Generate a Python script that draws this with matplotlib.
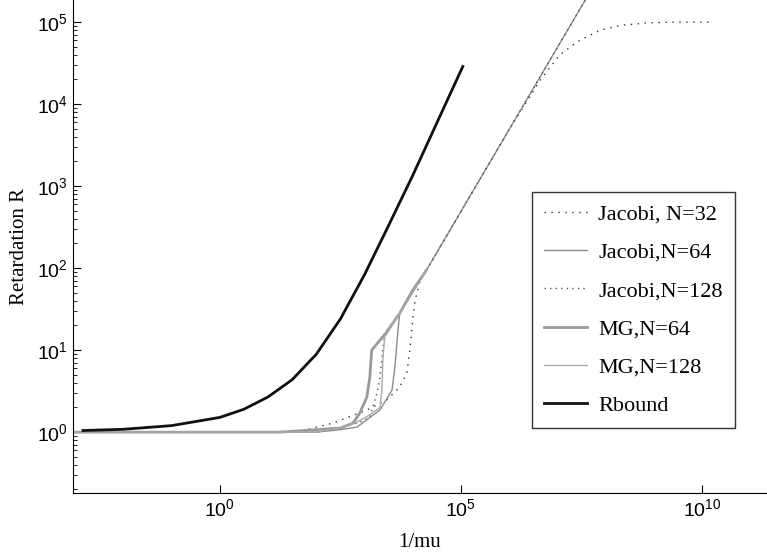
import numpy as np
import matplotlib
matplotlib.use("Agg")
from matplotlib import pyplot as plt

# values, as log10(1/mu) and log10(R)
rbound_lx = [-2.84, -2.0, -1.0, 0.0, 0.5, 1.0, 1.5, 2.0, 2.5, 3.0, 3.5, 4.0, 4.5, 5.04]
rbound_ly = [0.02, 0.035, 0.08, 0.18, 0.28, 0.43, 0.64, 0.95, 1.38, 1.92, 2.52, 3.13, 3.77, 4.46]

jac32_lx = [-3.05, 1.0, 1.72, 2.34, 3.05, 3.46, 3.73, 3.88, 3.94, 4.0, 4.05, 4.15,
            5.0, 6.0, 6.3, 6.64, 7.05, 7.41, 7.88, 8.30, 8.86, 9.40, 10.23]
jac32_ly = [0.0, 0.0, 0.02, 0.11, 0.27, 0.39, 0.55, 0.72, 1.0, 1.37, 1.61, 1.84,
            2.69, 3.69, 3.97, 4.29, 4.60, 4.76, 4.90, 4.96, 4.99, 5.0, 5.0]

jac64_lx = [-3.05, 2.0, 2.49, 2.84, 3.32, 3.57, 3.63, 3.69, 3.73, 4.29, 5.0, 6.0, 7.0, 8.0]
jac64_ly = [0.0, 0.0, 0.03, 0.06, 0.27, 0.51, 0.79, 1.21, 1.45, 1.98, 2.69, 3.69, 4.69, 5.69]

jac128_lx = [-3.05, 2.0, 2.49, 2.90, 3.11, 3.26, 3.32, 3.38, 3.42, 3.73, 4.29, 5.0, 6.0, 7.0, 8.0]
jac128_ly = [0.0, 0.0, 0.05, 0.12, 0.18, 0.48, 0.67, 1.0, 1.21, 1.45, 1.98, 2.69, 3.69, 4.69, 5.69]

mg64_lx = [-3.05, 1.24, 2.5, 2.76, 2.90, 3.05, 3.11, 3.15, 3.46, 3.73, 4.00, 4.29]
mg64_ly = [0.0, 0.0, 0.05, 0.11, 0.23, 0.43, 0.67, 1.0, 1.22, 1.45, 1.73, 1.98]

mg128_lx = [-3.05, 2.0, 2.49, 2.80, 3.11, 3.32, 3.36, 3.38, 3.42, 3.73, 4.29]
mg128_ly = [0.0, 0.0, 0.05, 0.11, 0.21, 0.30, 0.51, 0.88, 1.16, 1.45, 1.98]

labels = ["Jacobi, N=32", "Jacobi,N=64", "Jacobi,N=128", "MG,N=64", "MG,N=128", "Rbound"]
xticks = [1, 1e5, 1e10]
yticks = [1, 1e1, 1e2, 1e3, 1e4, 1e5]

serif = "Liberation Serif"
sans = "Liberation Sans"

fig = plt.figure(figsize=(7.67, 5.55), dpi=100)
ax = fig.add_axes([0.095, 0.112, 0.905, 0.888])

def p(lx, ly):
    return 10 ** np.array(lx), 10 ** np.array(ly)

ax.plot(*p(jac32_lx, jac32_ly), color="#333333", lw=1.0, ls=(0, (1, 4)), label=labels[0])
ax.plot(*p(jac64_lx, jac64_ly), color="#8c8c8c", lw=1.0, label=labels[1])
ax.plot(*p(jac128_lx, jac128_ly), color="#555555", lw=1.0, ls=(0, (1, 3)), label=labels[2])
ax.plot(*p(mg64_lx, mg64_ly), color="#9a9a9a", lw=2.0, label=labels[3])
ax.plot(*p(mg128_lx, mg128_ly), color="#aaaaaa", lw=1.0, label=labels[4])
ax.plot(*p(rbound_lx, rbound_ly), color="#111111", lw=2.0, label=labels[5])

ax.set_xscale("log")
ax.set_yscale("log")
ax.set_xlim(10 ** -3.05, 10 ** 11.35)
ax.set_ylim(10 ** -0.74, 10 ** 5.27)

ax.set_xticks(xticks)
ax.set_yticks(yticks)
ax.xaxis.set_minor_locator(matplotlib.ticker.NullLocator())
ax.yaxis.set_minor_formatter(matplotlib.ticker.NullFormatter())
ax.tick_params(which="both", direction="in")
ax.tick_params(which="major", length=6, width=0.8)
ax.tick_params(which="minor", length=3, width=0.6)
for lab in ax.get_xticklabels() + ax.get_yticklabels():
    lab.set_fontfamily(sans)
    lab.set_fontsize(14)

ax.spines["top"].set_visible(False)
ax.spines["right"].set_visible(False)

ax.set_xlabel("1/mu", fontfamily=serif, fontsize=15, labelpad=10)
ax.set_ylabel("Retardation R", fontfamily=serif, fontsize=15, labelpad=6)

leg = ax.legend(loc="upper left", bbox_to_anchor=(0.661, 0.611), borderaxespad=0,
                prop={"family": serif, "size": 16},
                frameon=True, fancybox=False, edgecolor="black", handlelength=1.95,
                handletextpad=0.5, labelspacing=0.8, borderpad=0.55)
leg.get_frame().set_linewidth(1.0)

fig.savefig("out.png", dpi=100)
